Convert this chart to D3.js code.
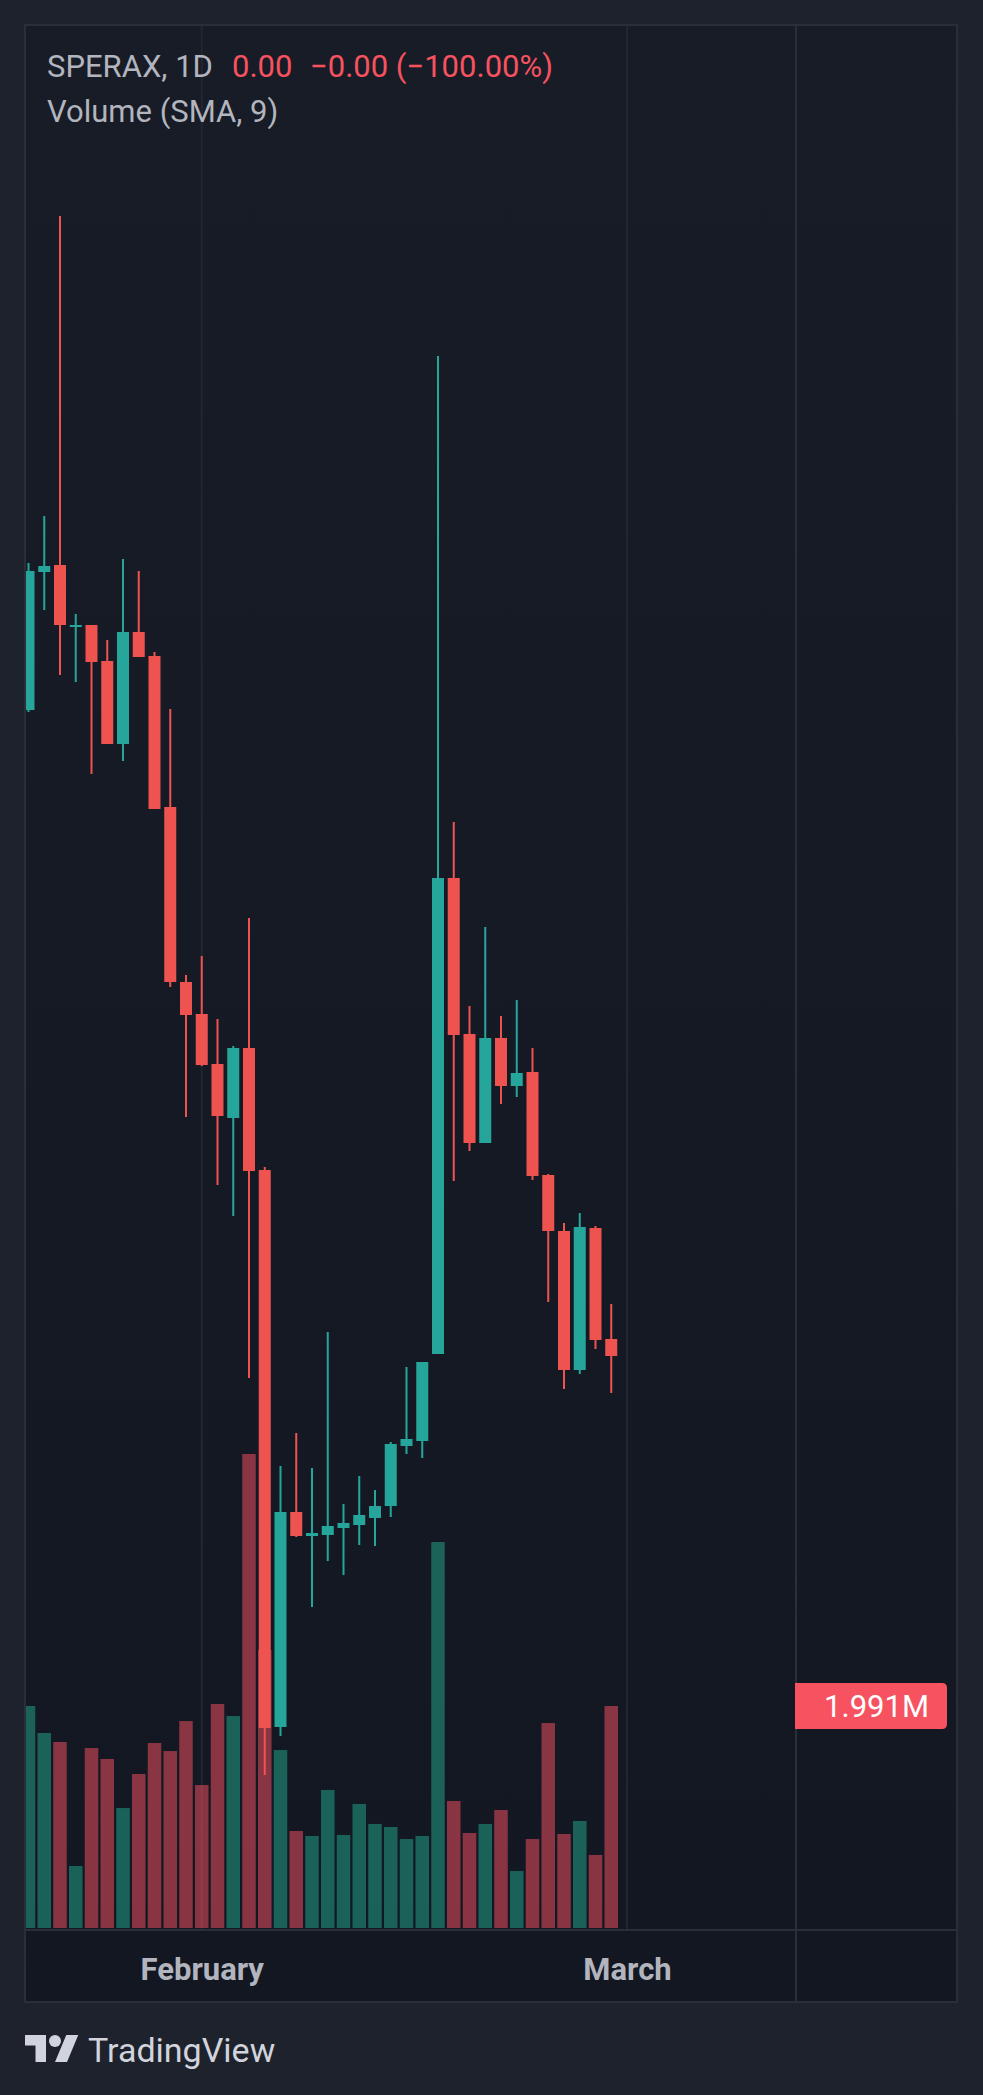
<!DOCTYPE html>
<html lang="en">
<head>
<meta charset="utf-8">
<title>SPERAX, 1D</title>
<script src="https://d3js.org/d3.v7.min.js"></script>
<style>
    body {
        margin: 0;
        background-color: #1e222d;
    }
    svg text {
        font-family: Roboto, "Noto Sans", sans-serif;
    }
    .axis path, .axis line {
        display: none;
    }
</style>
</head>
<body>
<svg id="chart"></svg>
<script>
// daily candles (price units are arbitrary, the chart shows no price scale)
const opens  = [0.01510,0.01648,0.01655,0.01593,0.01595,0.01559,0.01476,0.01588,0.01564,0.01413,0.01238,0.01206,0.01156,0.01102,0.01172,0.01050,0.00493,0.00708,0.00684,0.00685,0.00692,0.00695,0.00702,0.00714,0.00774,0.00779,0.00866,0.01342,0.01186,0.01077,0.01182,0.01134,0.01148,0.01045,0.00989,0.00850,0.00992,0.00881];
const highs  = [0.01657,0.01704,0.02004,0.01606,0.01595,0.01580,0.01661,0.01649,0.01568,0.01511,0.01245,0.01264,0.01201,0.01174,0.01302,0.01053,0.00754,0.00787,0.00752,0.00888,0.00716,0.00744,0.00730,0.00778,0.00853,0.00858,0.01864,0.01398,0.01214,0.01293,0.01204,0.01220,0.01172,0.01046,0.00997,0.01007,0.00994,0.00916];
const lows   = [0.01508,0.01610,0.01545,0.01538,0.01446,0.01476,0.01459,0.01563,0.01411,0.01233,0.01103,0.01154,0.01035,0.01004,0.00842,0.00445,0.00484,0.00683,0.00613,0.00659,0.00645,0.00675,0.00674,0.00703,0.00766,0.00762,0.00866,0.01039,0.01069,0.01077,0.01116,0.01123,0.01040,0.00918,0.00831,0.00846,0.00871,0.00827];
const closes = [0.01649,0.01654,0.01595,0.01595,0.01558,0.01476,0.01588,0.01563,0.01411,0.01238,0.01205,0.01155,0.01104,0.01172,0.01049,0.00492,0.00708,0.00684,0.00687,0.00694,0.00697,0.00705,0.00714,0.00776,0.00781,0.00858,0.01342,0.01185,0.01077,0.01182,0.01134,0.01147,0.01044,0.00989,0.00850,0.00993,0.00880,0.00864];
const volumes = [1991000,1749000,1668000,556000,1614000,1516000,1076000,1381000,1659000,1587000,1856000,1282000,2009000,1901000,4251000,2493000,1596000,870000,825000,1238000,834000,1112000,933000,906000,798000,825000,3462000,1139000,852000,933000,1058000,511000,798000,1838000,843000,960000,655000,1991000];

// month labels sit on the bar index where the month starts
const tickIndex  = [11, 38];
const tickLabels = ["February", "March"];

// legend values exactly as the chart prints them
const legendSymbol = "SPERAX, 1D";
const legendValues = ["0.00", "\u22120.00 (\u2212100.00%)"];
const legendStudy  = "Volume (SMA, 9)";

const W = 983, H = 2095;
const frame = {left: 25, top: 25, right: 957, bottom: 2002};
const paneRight = 796, paneBottom = 1930;

const UP = "#26a69a", DOWN = "#ef5350";
const UP_VOL = "rgba(34,171,144,0.5)", DOWN_VOL = "rgba(255,82,100,0.5)";
const TEXT = "#b2b5be", LINE = "#2a2e39";

const bars = opens.map((o, i) => ({
    i: i, open: o, high: highs[i], low: lows[i], close: closes[i], vol: volumes[i],
    up: closes[i] >= o
}));

const x = d3.scaleLinear().domain([0, 37]).range([28.5, 611.25]);
const y = d3.scaleLinear().domain([0.004, 0.020]).range([1820, 220]);
const yVol = d3.scaleLinear().domain([0, 5e6]).range([1928, 1370.5]);

const svg = d3.select("#chart").attr("width", W).attr("height", H);

const defs = svg.append("defs");
const grad = defs.append("linearGradient").attr("id", "bg")
    .attr("x1", 0).attr("y1", 0).attr("x2", 0).attr("y2", 1);
grad.append("stop").attr("offset", "0%").attr("stop-color", "#181c27");
grad.append("stop").attr("offset", "100%").attr("stop-color", "#131722");

defs.append("clipPath").attr("id", "pane")
  .append("rect")
    .attr("x", frame.left).attr("y", frame.top)
    .attr("width", paneRight - frame.left).attr("height", paneBottom - frame.top);

svg.append("rect").attr("width", W).attr("height", H).attr("fill", "#1e222d");

svg.append("rect")
    .attr("x", frame.left).attr("y", frame.top)
    .attr("width", frame.right - frame.left).attr("height", frame.bottom - frame.top)
    .attr("fill", "url(#bg)");

// month grid lines
svg.append("g").selectAll("line").data(tickIndex).join("line")
    .attr("x1", d => x(d)).attr("x2", d => x(d))
    .attr("y1", frame.top).attr("y2", paneBottom)
    .attr("stroke", "#222631").attr("stroke-width", 2);

const plot = svg.append("g").attr("clip-path", "url(#pane)");

// volume first, candles are painted over it
plot.append("g").selectAll("rect").data(bars).join("rect")
    .attr("x", d => x(d.i) - 6.75)
    .attr("width", 13.5)
    .attr("y", d => yVol(d.vol))
    .attr("height", d => yVol(0) - yVol(d.vol))
    .attr("fill", d => d.up ? UP_VOL : DOWN_VOL);

const candle = plot.append("g").selectAll("g").data(bars).join("g")
    .attr("fill", d => d.up ? UP : DOWN);

candle.append("rect")
    .attr("x", d => x(d.i) - 1)
    .attr("width", 2)
    .attr("y", d => y(d.high))
    .attr("height", d => Math.max(1, y(d.low) - y(d.high)));

candle.append("rect")
    .attr("x", d => x(d.i) - 6)
    .attr("width", 12)
    .attr("y", d => y(Math.max(d.open, d.close)))
    .attr("height", d => Math.max(2, Math.abs(y(d.open) - y(d.close))));

// pane separators and frame
svg.append("line")
    .attr("x1", paneRight).attr("x2", paneRight)
    .attr("y1", frame.top).attr("y2", frame.bottom)
    .attr("stroke", LINE).attr("stroke-width", 2);
svg.append("line")
    .attr("x1", frame.left).attr("x2", frame.right)
    .attr("y1", paneBottom).attr("y2", paneBottom)
    .attr("stroke", LINE).attr("stroke-width", 2);
svg.append("rect")
    .attr("x", frame.left).attr("y", frame.top)
    .attr("width", frame.right - frame.left).attr("height", frame.bottom - frame.top)
    .attr("fill", "none").attr("stroke", LINE).attr("stroke-width", 2);

// time axis
const xAxis = d3.axisBottom(x)
    .tickValues(tickIndex)
    .tickFormat((d, i) => tickLabels[i])
    .tickSize(0).tickPadding(0);

svg.append("g").attr("class", "axis")
    .attr("transform", `translate(0, 1980)`)
    .call(xAxis)
    .call(g => g.selectAll("text")
        .attr("dy", 0)
        .attr("fill", TEXT)
        .attr("font-size", 31)
        .attr("font-weight", "bold")
        .attr("font-family", "Roboto, sans-serif"));

// last volume label on the price scale
const last = bars[bars.length - 1];
const ly = yVol(last.vol);
const lx0 = paneRight - 1, lx1 = 947, lh = 23, r = 5;
svg.append("path")
    .attr("d", `M${lx0},${ly - lh}H${lx1 - r}Q${lx1},${ly - lh} ${lx1},${ly - lh + r}V${ly + lh - r}Q${lx1},${ly + lh} ${lx1 - r},${ly + lh}H${lx0}Z`)
    .attr("fill", "#f7525f");
svg.append("text")
    .attr("x", 929).attr("y", ly + 11)
    .attr("text-anchor", "end")
    .attr("font-size", 31)
    .attr("fill", "#ffffff")
    .text((last.vol / 1e6).toFixed(3) + "M");

// legend
const legend = svg.append("text").attr("x", 47).attr("y", 77).attr("font-size", 31);
legend.append("tspan").attr("fill", TEXT).text(legendSymbol);
legend.append("tspan").attr("x", 232).attr("fill", "#f7525f").text(legendValues[0]);
legend.append("tspan").attr("x", 310).attr("fill", "#f7525f").text(legendValues[1]);

svg.append("text").attr("x", 47).attr("y", 122).attr("font-size", 31)
    .attr("fill", TEXT).text(legendStudy);

// TradingView mark
const logo = svg.append("g").attr("fill", "#d1d4dc");
logo.append("g").attr("transform", "translate(25, 2029) scale(1.5)")
  .call(g => {
      g.append("path").attr("d", "M14 22H7V11H0V4h14v18zM28 22h-8l7.5-18h8L28 22z");
      g.append("circle").attr("cx", 20).attr("cy", 8).attr("r", 4);
  });
logo.append("text").attr("x", 88).attr("y", 2062).attr("font-size", 34).text("TradingView");
</script>
</body>
</html>
